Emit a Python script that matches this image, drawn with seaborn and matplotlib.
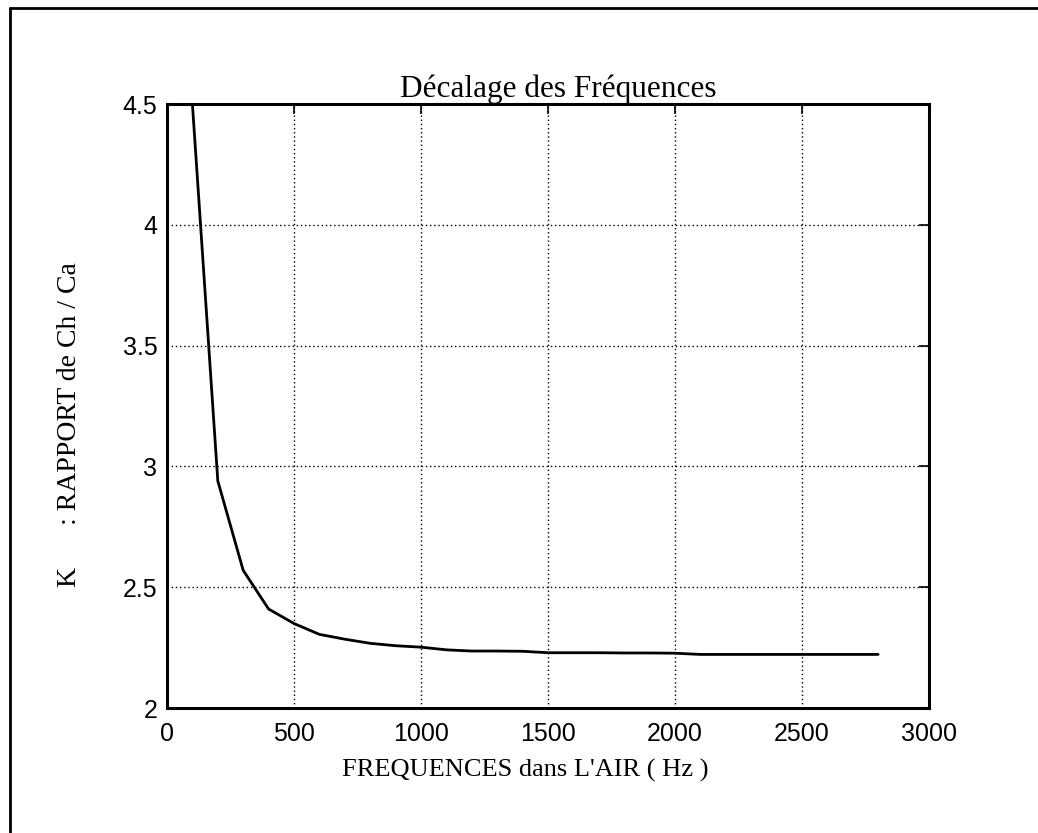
import matplotlib
matplotlib.use("Agg")
import matplotlib.pyplot as plt
from matplotlib.lines import Line2D
import numpy as np
import pandas as pd
import seaborn as sns

# Frequency in air (Hz) and the ratio K = Ch / Ca
freq_hz = [100, 200, 300, 400, 500, 600, 700, 800, 900, 1000,
           1100, 1200, 1300, 1400, 1500, 1600, 1700, 1800, 1900, 2000,
           2100, 2200, 2300, 2400, 2500, 2600, 2700, 2800]
ratio_k = [4.50, 2.94, 2.57, 2.41, 2.35, 2.305, 2.285, 2.268, 2.258, 2.252,
           2.241, 2.236, 2.236, 2.235, 2.229, 2.229, 2.229, 2.228, 2.228, 2.227,
           2.222, 2.222, 2.222, 2.222, 2.222, 2.222, 2.222, 2.222]

x_ticks = [0, 500, 1000, 1500, 2000, 2500, 3000]
y_ticks = [2, 2.5, 3, 3.5, 4, 4.5]
y_tick_labels = ["2", "2.5", "3", "3.5", "4", "4.5"]

title = "Décalage des Fréquences"
x_label = "FREQUENCES dans L'AIR ( Hz )"
y_label = "K      : RAPPORT de Ch / Ca"

df = pd.DataFrame({"freq": freq_hz, "k": ratio_k})

sns.set_theme(style="white")
plt.rcParams["font.family"] = ["Liberation Sans", "DejaVu Sans"]

fig = plt.figure(figsize=(10.38, 8.33), dpi=100)
ax = fig.add_axes([0.1609, 0.150, 0.734, 0.725])

sns.lineplot(data=df, x="freq", y="k", ax=ax, color="black",
             linewidth=2.0, estimator=None, sort=False)

ax.set_xlim(0, 3000)
ax.set_ylim(2, 4.5)
ax.set_xticks(x_ticks)
ax.set_xticklabels([str(t) for t in x_ticks])
ax.set_yticks(y_ticks)
ax.set_yticklabels(y_tick_labels)

ax.grid(True, color="black", linestyle=(0, (1, 2)), linewidth=1.0)
ax.tick_params(axis="both", which="major", direction="in", length=7, width=1.2,
               colors="black", labelsize=18, top=True, right=True)
ax.tick_params(axis="x", pad=10)
ax.tick_params(axis="y", pad=7)
for s in ax.spines.values():
    s.set_visible(True)
    s.set_color("black")
    s.set_linewidth(2.2)

serif = ["Liberation Serif", "DejaVu Serif"]
ax.set_title(title, family=serif, fontsize=22.5, color="black", pad=5,
             x=0.513)
ax.set_xlabel(x_label, family=serif, fontsize=19, color="black")
ax.set_ylabel(y_label, family=serif, fontsize=20, color="black")
ax.xaxis.set_label_coords(0.47, -0.085)
ax.yaxis.set_label_coords(-0.112, 0.47)

# page frame lines (left and top edges)
fig.add_artist(Line2D([10 / 1038, 10 / 1038], [0, 1 - 8 / 833],
                      transform=fig.transFigure, color="black", linewidth=2))
fig.add_artist(Line2D([10 / 1038, 1], [1 - 8 / 833, 1 - 8 / 833],
                      transform=fig.transFigure, color="black", linewidth=2))

fig.savefig("out.png", dpi=100, facecolor="white")
